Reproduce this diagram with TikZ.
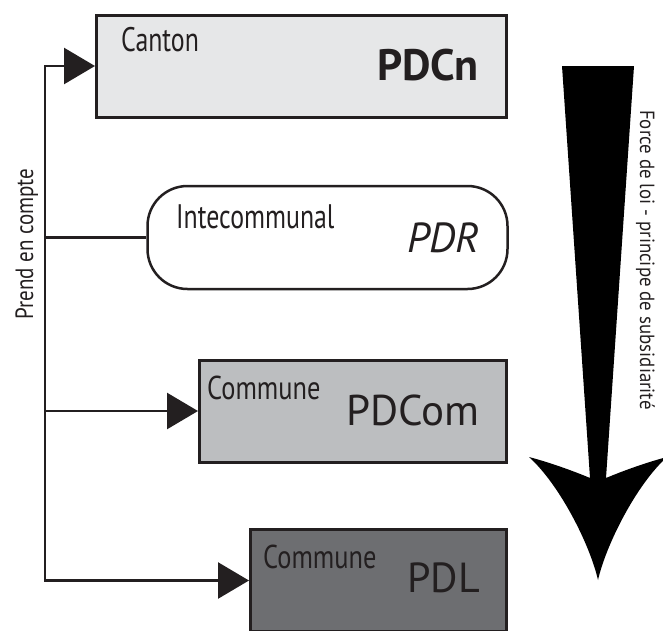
\documentclass[tikz,border=0pt]{standalone}
\usepackage{fontspec}
\setmainfont{PT Sans}
\newfontfamily\condfont[FakeStretch=0.76]{PT Sans}
\newfontfamily\communefont[FakeStretch=0.8]{PT Sans}
\newfontfamily\sidefont[FakeStretch=0.84]{PT Sans}
\newfontfamily\forcefont[FakeStretch=0.92]{PT Sans}
\usetikzlibrary{arrows.meta}

\definecolor{ink}{HTML}{231F20}
\definecolor{cantonfill}{HTML}{E6E7E8}
\definecolor{comfill}{HTML}{BCBEC0}
\definecolor{pdlfill}{HTML}{6D6E71}

\begin{document}
\begin{tikzpicture}[
  x=1pt, y=-1pt,
  level/.style={draw=ink, line width=3pt, inner sep=0pt, minimum height=102pt},
  tag/.style={inner sep=0pt, anchor=base west, text=ink,
              font=\condfont\fontsize{34}{40}\selectfont},
  communetag/.style={tag, font=\communefont\fontsize{33}{38}\selectfont},
  planname/.style={inner sep=0pt, anchor=base east, text=ink},
  sidetext/.style={inner sep=0pt, anchor=base west, text=ink,
                   font=\sidefont\fontsize{25}{30}\selectfont},
  conn/.style={draw=ink, line width=2.6pt},
  headed/.style={-{Triangle[length=31pt,width=36pt]}},
]
\useasboundingbox (0,0) rectangle (663,630);

% plan levels
\node[level, fill=cantonfill, minimum width=410pt] (canton) at (301.5,66) {};
\node[level, line width=2.5pt, rounded corners=40pt, fill=white,
      minimum width=360pt, minimum height=103pt] (pdr) at (327.5,237.5) {};
\node[level, fill=comfill, minimum width=307pt] (pdcom) at (353,411) {};
\node[level, fill=pdlfill, minimum width=256pt] (pdl) at (378.5,580.5) {};

% level labels
\node[tag] (canton-tag) at (121,51) {Canton};
\node[planname, font=\bfseries\fontsize{44}{50}\selectfont] (canton-name) at (479,80) {PDCn};
\node[tag] (pdr-tag) at (176,228) {Intecommunal};
\node[planname, font=\itshape\fontsize{42}{50}\selectfont] (pdr-name) at (480,252) {PDR};
\node[communetag] (pdcom-tag) at (207,399) {Commune};
\node[planname, font=\fontsize{43}{50}\selectfont] (pdcom-name) at (480,425) {PDCom};
\node[communetag] (pdl-tag) at (263,568) {Commune};
\node[planname, font=\fontsize{42}{50}\selectfont] (pdl-name) at (480,592) {PDL};

% "takes into account" bracket
\coordinate (trunk) at (45,66);
\draw[conn, {Triangle[length=31pt,width=36pt]}-{Triangle[length=31pt,width=36pt]}]
  (canton.west) -- (trunk) -- (trunk |- pdl.west) -- (pdl.west);
\draw[conn] (trunk |- pdr.west) -- (pdr.west);
\draw[conn, headed] (trunk |- pdcom.west) -- (pdcom.west);
\node[sidetext, rotate=90] (take-label) at (33,320) {Prend en compte};

% tapering arrow of legal force
\fill[black] (562,66) -- (634,66) -- (606,478)
  .. controls (625,470) and (648,462) .. (667,457)
  .. controls (636,485) and (606,545) .. (598,580)
  .. controls (590,545) and (560,485) .. (529,457)
  .. controls (548,462) and (571,470) .. (590,478) -- cycle;
\node[sidetext, font=\forcefont\fontsize{20.5}{24}\selectfont, rotate=-90]
  (force-label) at (640,110) {Force de loi - principe de subsidiarité};
\end{tikzpicture}
\end{document}
